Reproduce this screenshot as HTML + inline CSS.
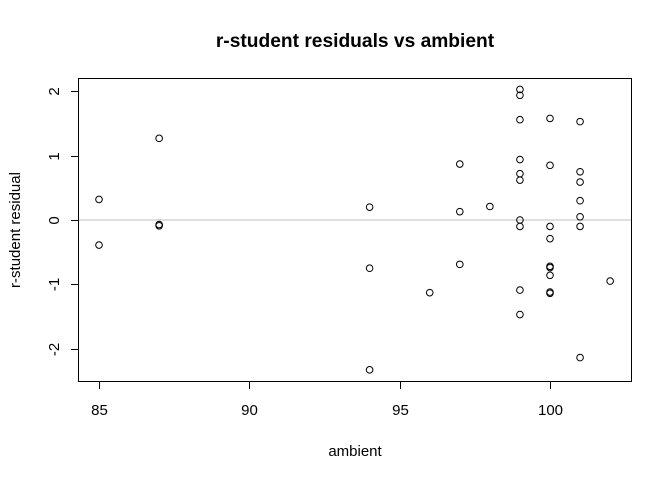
<!DOCTYPE html>
<html><head><meta charset="utf-8"><style>
body{margin:0;background:#fff}
svg{display:block;font-family:"Liberation Sans",Arial,sans-serif}
</style></head><body>
<svg id="chart" width="672" height="480" viewBox="0 0 672 480">
<rect width="672" height="480" fill="#fff"/>
<text x="355" y="47" text-anchor="middle" font-size="19.2" font-weight="bold">r-student residuals vs ambient</text>
<text x="355" y="456" text-anchor="middle" font-size="15">ambient</text>
<text transform="translate(20,230) rotate(-90)" text-anchor="middle" font-size="15">r-student residual</text>
<g id="axes"></g>
<g id="points"></g>
<rect x="78.5" y="78.5" width="553" height="303" fill="none" stroke="#000"/>
</svg>
<script>
const xTicks=[85,90,95,100];
const yTicks=[-2,-1,0,1,2];
const ambient=[85,85,87,87,87,94,94,94,96,97,97,97,98,
99,99,99,99,99,99,99,99,99,99,
100,100,100,100,100,100,100,100,100,
101,101,101,101,101,101,101,102];
const residual=[0.32,-0.39,1.27,-0.07,-0.09,0.20,-0.75,-2.33,-1.13,0.87,0.13,-0.69,0.21,
2.03,1.94,1.56,0.94,0.72,0.62,0.00,-0.10,-1.09,-1.47,
1.58,0.85,-0.10,-0.29,-0.72,-0.74,-0.86,-1.12,-1.14,
1.53,0.75,0.59,0.30,0.05,-0.10,-2.14,-0.95];
const NS='http://www.w3.org/2000/svg';
function xs(v){return 99+(v-85)*(550-99)/15;}
function ys(v){return 220-v*64.3;}
const ax=document.getElementById('axes'),pg=document.getElementById('points');
function mk(t,a,p){const e=document.createElementNS(NS,t);for(const k in a)e.setAttribute(k,a[k]);p.appendChild(e);return e;}
const ref=mk('line',{x1:78.5,x2:631.5,y1:ys(0),y2:ys(0),stroke:'#bebebe'},ax);


const xl=mk('line',{x1:xs(85),x2:xs(100),y1:381.5,y2:381.5,stroke:'#000'},ax);


xTicks.forEach(v=>{
 const x=Math.round(xs(v))+0.5;
 const t=mk('line',{x1:x,x2:x,y1:381.5,y2:389,stroke:'#000'},ax);
 
 
 const l=mk('text',{x:x,y:415,'text-anchor':'middle','font-size':15},ax);
 l.textContent=v;
 
 
});
const yl=mk('line',{x1:78.5,x2:78.5,y1:ys(-2),y2:ys(2),stroke:'#000'},ax);


yTicks.forEach(v=>{
 const y=Math.round(ys(v))+0.5;
 const t=mk('line',{x1:71,x2:78.5,y1:y,y2:y,stroke:'#000'},ax);
 
 
 const l=mk('text',{x:0,y:0,'text-anchor':'middle','font-size':15,transform:`translate(59,${y}) rotate(-90)`},ax);
 l.textContent=v;
 
 
});
ambient.forEach((a,i)=>{
 const c=mk('circle',{cx:xs(a),cy:ys(residual[i]),r:3.3,fill:'none',stroke:'#000','stroke-width':1},pg);
 
 
});
</script>
</body></html>
